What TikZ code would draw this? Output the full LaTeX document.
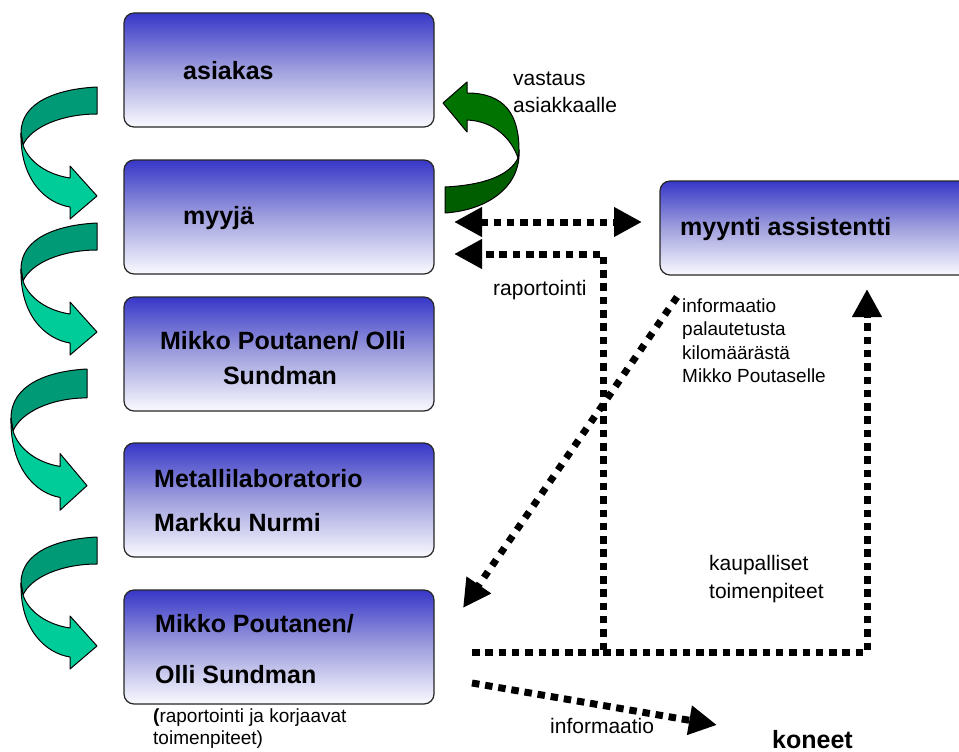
\documentclass[tikz,border=0pt]{standalone}
\usepackage{fontspec}
\setmainfont{Liberation Sans}
\usetikzlibrary{arrows.meta}

\definecolor{boxtop}{RGB}{55,55,200}
\definecolor{boxmid}{RGB}{160,160,222}
\definecolor{boxbot}{RGB}{250,250,255}
\definecolor{tealback}{RGB}{0,155,118}
\definecolor{tealfront}{RGB}{0,204,153}
\definecolor{greenfront}{RGB}{0,115,0}
\definecolor{greenback}{RGB}{0,94,0}

\tikzset{
  stagebox/.style={draw=black!85, line width=1.2pt, rounded corners=10pt,
    top color=boxtop, bottom color=boxbot, middle color=boxmid,
    minimum width=310pt, minimum height=114pt, inner sep=0pt},
  boxlabel/.style={anchor=base west, inner sep=0pt, font=\bfseries\fontsize{25}{30}\selectfont},
  note/.style={anchor=base west, inner sep=0pt, font=\fontsize{21}{25}\selectfont},
  smallnote/.style={anchor=base west, inner sep=0pt, font=\fontsize{19}{23}\selectfont},
  dotline/.style={line width=7pt, dash pattern=on 7.5pt off 5.8pt},
  bighead/.tip={Triangle[length=28pt,width=28pt]},
  ribbon/.style={draw=black, line width=1pt, line join=round},
  % folded ribbon arrow turning down and to the right; origin = upper right end
  turnarrow/.pic={
    \filldraw[ribbon, fill=tealback]
      (0,0) .. controls (-40,2) and (-76,15) .. (-76,46)
      -- (-74,58) .. controls (-66,40) and (-35,27) .. (0,27) -- cycle;
    \filldraw[ribbon, fill=tealfront]
      (-76,46) .. controls (-77,92) and (-52,116) .. (-27,120)
      -- (-27,132) -- (0,109) -- (-27,79) -- (-27,91)
      .. controls (-48,88) and (-68,76) .. (-74,58) -- cycle;
  }
}

\begin{document}
\begin{tikzpicture}[x=1pt,y=-1pt]
  \path[use as bounding box, clip] (0,0) rectangle (959,752);

  % process boxes
  \node[stagebox] (asiakas) at (279,70) {};
  \node[stagebox] (myyja) at (279,217) {};
  \node[stagebox] (mikko) at (279,354) {};
  \node[stagebox] (metalli) at (279,500) {};
  \node[stagebox] (mikkob) at (279,647) {};
  \node[stagebox, minimum width=340pt, minimum height=94pt] (assist) at (830,228) {};

  % box texts
  \node[boxlabel] (tAsiakas) at (183,80) {asiakas};
  \node[boxlabel] (tMyyja) at (183,224) {myyjä};
  \node[boxlabel, anchor=base] (tMikkoA) at (283,349) {Mikko Poutanen/ Olli};
  \node[boxlabel, anchor=base] (tMikkoB) at (280,384) {Sundman};
  \node[boxlabel] (tMetA) at (154,487) {Metallilaboratorio};
  \node[boxlabel] (tMetB) at (154,531) {Markku Nurmi};
  \node[boxlabel] (tMikkoC) at (155,632) {Mikko Poutanen/};
  \node[boxlabel] (tMikkoD) at (155,683) {Olli Sundman};
  \node[boxlabel] (tAssist) at (680,235) {myynti assistentti};
  \node[boxlabel] (tKoneet) at (772,748) {koneet};

  % ribbon arrows down the chain
  \pic at (97,87) {turnarrow};
  \pic at (97,223) {turnarrow};
  \pic[yscale=1.07] at (87,369) {turnarrow};
  \pic at (97,537) {turnarrow};

  % answer back to the customer
  \filldraw[ribbon, fill=greenback]
    (519,150) .. controls (521,185) and (490,210) .. (445,213)
    -- (445,187) .. controls (485,185) and (510,175) .. (518,158) -- cycle;
  \filldraw[ribbon, fill=greenfront]
    (467,93) .. controls (505,93) and (519,115) .. (519,150)
    -- (518,158) .. controls (512,140) and (495,121) .. (467,120)
    -- (467,132) -- (443,103) -- (467,82) -- cycle;

  % dotted connectors
  \coordinate (dA) at (454,222);
  \coordinate (dB) at (642,222);
  \coordinate (r0) at (472,652);
  \coordinate (rc) at (603,652);
  \coordinate (rt) at (454,254);
  \coordinate (kt) at (867,289);
  \coordinate (i0) at (677,297);
  \coordinate (i1) at (463,608);
  \coordinate (j0) at (472,683);
  \coordinate (j1) at (717,725);

  \draw[dotline, bighead-bighead] (dA) -- (dB);
  \draw[dotline, -bighead] (r0) -- (rc) |- (rt);
  \draw[dotline, -bighead] (rc) -| (kt);
  \draw[dotline, line width=7pt, dash pattern=on 7pt off 7.5pt, -bighead] (i0) -- (i1);
  \draw[dotline, -bighead] (j0) -- (j1);

  % labels
  \node[note] (lVa) at (513,85) {vastaus};
  \node[note] (lVb) at (513,113) {asiakkaalle};
  \node[note] (lRap) at (493,295) {raportointi};
  \node[smallnote] (lIa) at (682,312) {informaatio};
  \node[smallnote] (lIb) at (682,335.5) {palautetusta};
  \node[smallnote] (lIc) at (682,359) {kilomäärästä};
  \node[smallnote] (lId) at (682,382.5) {Mikko Poutaselle};
  \node[note] (lKa) at (709,570) {kaupalliset};
  \node[note] (lKb) at (709,598) {toimenpiteet};
  \node[smallnote] (lRa) at (153,722) {{\bfseries(}raportointi ja korjaavat};
  \node[smallnote] (lRb) at (153,744) {toimenpiteet)};
  \node[note] (lInf) at (550,733) {informaatio};
\end{tikzpicture}
\end{document}
